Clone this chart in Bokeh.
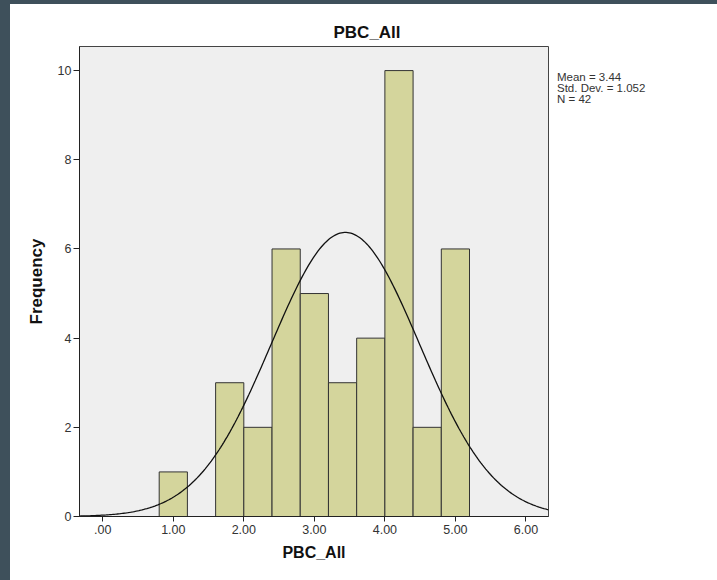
import numpy as np
from bokeh.plotting import figure
from bokeh.models import FixedTicker, Range1d, Div
from bokeh.layouts import row, column
from bokeh.embed import file_html
from bokeh.resources import INLINE

# Data
bin_left = [0.8, 1.2, 1.6, 2.0, 2.4, 2.8, 3.2, 3.6, 4.0, 4.4, 4.8]
bin_right = [1.2, 1.6, 2.0, 2.4, 2.8, 3.2, 3.6, 4.0, 4.4, 4.8, 5.2]
counts = [1, 0, 3, 2, 6, 5, 3, 4, 10, 2, 6]
mean_val = 3.44
std_val = 1.052
n_val = 42
bin_width = 0.4
x_ticks = [0, 1, 2, 3, 4, 5, 6]
x_tick_labels = [".00", "1.00", "2.00", "3.00", "4.00", "5.00", "6.00"]
y_ticks = [0, 2, 4, 6, 8, 10]
stats = ["Mean = 3.44", "Std. Dev. = 1.052", "N = 42"]

FONT = "Liberation Sans"

p = figure(width=539, height=576, output_backend="svg", toolbar_location=None,
           x_range=Range1d(-0.33, 6.32), y_range=Range1d(0, 10.54),
           min_border_left=69, min_border_right=1, min_border_top=42, min_border_bottom=64,
           title="PBC_All")
p.background_fill_color = "#efefef"
p.border_fill_color = "white"
p.outline_line_color = "#444444"
p.outline_line_width = 1
p.grid.visible = False

p.title.text_font = FONT
p.title.text_font_size = "17px"
p.title.text_font_style = "bold"
p.title.text_color = "#111111"
p.title.align = "left"
p.title.offset = 254
p.title.standoff = 9

# bars
p.quad(left=bin_left, right=bin_right, bottom=0, top=counts,
       fill_color="#d4d59c", line_color="#333333", line_width=1)

# normal curve (fitted from mean, std, N and bin width)
xs = np.linspace(-0.33, 6.32, 300)
ys = n_val * bin_width * np.exp(-0.5 * ((xs - mean_val) / std_val) ** 2) / (std_val * np.sqrt(2 * np.pi))
p.line(xs, ys, line_color="#111111", line_width=1.3)

# axes
p.xaxis.ticker = FixedTicker(ticks=x_ticks)
p.xaxis.major_label_overrides = {t: l for t, l in zip(x_ticks, x_tick_labels)}
p.yaxis.ticker = FixedTicker(ticks=y_ticks)
for ax in (p.xaxis[0], p.yaxis[0]):
    ax.minor_tick_line_color = None
    ax.major_tick_in = 0
    ax.axis_line_color = "#222222"
    ax.major_tick_line_color = "#222222"
    ax.major_label_text_font = FONT
    ax.major_label_text_font_size = "12.5px"
    ax.major_label_text_color = "#333333"
    ax.axis_label_text_font = FONT
    ax.axis_label_text_font_style = "bold"
    ax.axis_label_text_color = "#111111"
p.xaxis.major_tick_out = 5
p.yaxis.major_tick_out = 6
p.xaxis.axis_label = "PBC_All"
p.yaxis.axis_label = "Frequency"
p.xaxis.axis_label_text_font_size = "16px"
p.yaxis.axis_label_text_font_size = "17px"
p.xaxis.major_label_standoff = 3
p.xaxis.axis_label_standoff = 7
p.yaxis.major_label_standoff = 2
p.yaxis.axis_label_standoff = 9

stats_html = ('<div style="margin-left:3px;margin-top:63px;font-family:\'Liberation Sans\';'
              'font-size:11.5px;line-height:11px;color:#333333;white-space:nowrap">'
              + "<br>".join(stats) + "</div>")
div = Div(text=stats_html, width=163, height=576, styles={"background-color": "white"})

inner = row(p, div, styles={"background-color": "white"})
layout = column(inner, styles={"background-color": "#3e505b", "padding-left": "10px",
                               "padding-top": "4px", "width": "717px", "height": "580px"})
open("out.html", "w").write(file_html(layout, INLINE))
